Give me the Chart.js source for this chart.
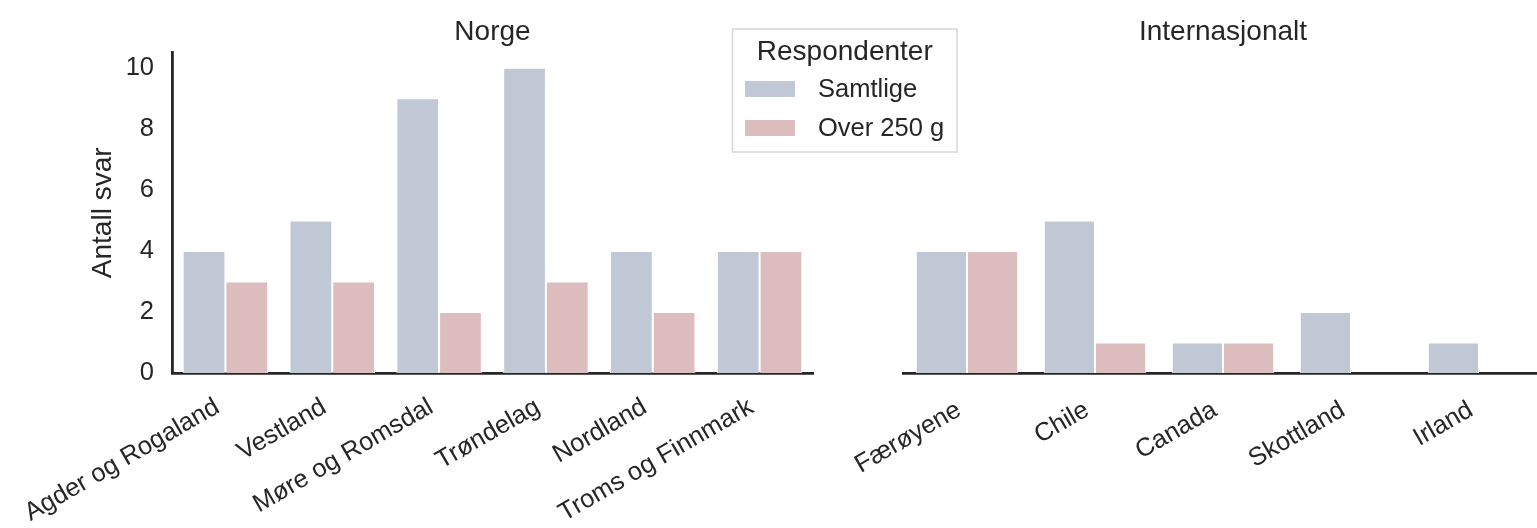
<!DOCTYPE html>
<html><head><meta charset="utf-8">
<script src="https://cdn.jsdelivr.net/npm/chart.js@4.4.1/dist/chart.umd.min.js"></script>
<style>
html,body{margin:0;padding:0;background:#fff;}
#wrap{position:relative;width:1537px;height:528px;overflow:hidden;background:#fff;}
#c1{position:absolute;left:0;top:0;}
#c2{position:absolute;left:800px;top:0;}
</style></head><body>
<div id="wrap"><canvas id="c2" width="760" height="528"></canvas><canvas id="c1" width="970" height="528"></canvas></div>
<script>
const norgeCategories = ["Agder og Rogaland", "Vestland", "Møre og Romsdal", "Trøndelag", "Nordland", "Troms og Finnmark"];
const norgeSamtlige = [4, 5, 9, 10, 4, 4];
const norgeOver250 = [3, 3, 2, 3, 2, 4];
const intCategories = ["Færøyene", "Chile", "Canada", "Skottland", "Irland"];
const intSamtlige = [4, 5, 1, 2, 1];
const intOver250 = [4, 1, 1, 0, 0];
const seriesNames = ["Samtlige", "Over 250 g"];
const legendTitle = "Respondenter";
const yTitle = "Antall svar";
const yTicks = [0, 2, 4, 6, 8, 10];

const TXT = '#262626';
const AX = '#262626';
const BLUE = 'rgb(192,200,214)';
const PINK = 'rgb(220,188,188)';
const FAM = "'Liberation Sans', Arial, Helvetica, sans-serif";
const TICK_SIZE = 25.5;
const TITLE_SIZE = 28;
Chart.defaults.font.family = FAM;
Chart.defaults.color = TXT;

function ds(label, data, color) {
  return {
    label, data, backgroundColor: color,
    borderColor: '#ffffff',
    borderWidth: c => (c.raw ? 1 : 0),
    barPercentage: 1, categoryPercentage: 0.8
  };
}

const legendPlugin = {
  id: 'boxLegend',
  afterDraw(chart) {
    const ctx = chart.ctx;
    const x0 = 732.5, y0 = 29, w = 224.5, h = 123;
    ctx.save();
    ctx.fillStyle = '#ffffff';
    ctx.fillRect(x0, y0, w, h);
    ctx.strokeStyle = '#d6d6d6';
    ctx.lineWidth = 1.5;
    ctx.strokeRect(x0, y0, w, h);
    ctx.fillStyle = TXT;
    ctx.textBaseline = 'middle';
    ctx.textAlign = 'center';
    ctx.font = TITLE_SIZE + "px " + FAM;
    ctx.fillText(legendTitle, x0 + w / 2, 52);
    ctx.textAlign = 'left';
    ctx.font = TICK_SIZE + "px " + FAM;
    chart.data.datasets.forEach((d, i) => {
      const cy = 89 + i * 39;
      ctx.fillStyle = d.backgroundColor;
      ctx.fillRect(745, cy - 8, 50, 16);
      ctx.fillStyle = TXT;
      ctx.fillText(d.label, 818, cy + 1);
    });
    ctx.restore();
  }
};

function xScale(pad) {
  return {
    type: 'category', offset: true, z: 1,
    grid: { display: false, drawTicks: false },
    border: { display: true, color: AX, width: 2.8 },
    ticks: { autoSkip: false, maxRotation: 30, minRotation: 30, padding: pad, labelOffset: -8,
             font: { size: TICK_SIZE }, color: TXT },
    afterFit: s => { s.height = 155; }
  };
}

function titleOpt(text) {
  return { display: true, text, fullSize: false, font: { size: TITLE_SIZE, weight: 'normal' }, color: TXT,
           padding: { top: 15, bottom: 4 } };
}

new Chart(document.getElementById('c1'), {
  type: 'bar',
  data: { labels: norgeCategories,
    datasets: [ds(seriesNames[0], norgeSamtlige, BLUE), ds(seriesNames[1], norgeOver250, PINK)] },
  options: {
    responsive: false, animation: false,
    layout: { padding: { left: 0, right: 157, top: 0, bottom: 0 } },
    plugins: {
      legend: { display: false }, tooltip: { enabled: false },
      title: titleOpt('Norge')
    },
    scales: {
      x: xScale(19),
      y: {
        min: 0, max: 10.5, z: 1,
        afterBuildTicks: s => { s.ticks = yTicks.map(v => ({ value: v })); },
        grid: { display: false, drawTicks: false },
        border: { display: true, color: AX, width: 2.8 },
        ticks: { padding: 18, font: { size: TICK_SIZE }, color: TXT, includeBounds: false },
        title: { display: true, text: yTitle, font: { size: TITLE_SIZE }, color: TXT, padding: { top: 86, bottom: 0 } },
        afterFit: s => { s.width = 172; }
      }
    }
  },
  plugins: [legendPlugin]
});

new Chart(document.getElementById('c2'), {
  type: 'bar',
  data: { labels: intCategories,
    datasets: [ds(seriesNames[0], intSamtlige, BLUE), ds(seriesNames[1], intOver250, PINK)] },
  options: {
    responsive: false, animation: false,
    layout: { padding: { left: 103, right: 17, top: 0, bottom: 0 } },
    plugins: {
      legend: { display: false }, tooltip: { enabled: false },
      title: titleOpt('Internasjonalt')
    },
    scales: {
      x: xScale(22),
      y: { display: false, min: 0, max: 10.5 }
    }
  }
});
</script>
</body></html>
